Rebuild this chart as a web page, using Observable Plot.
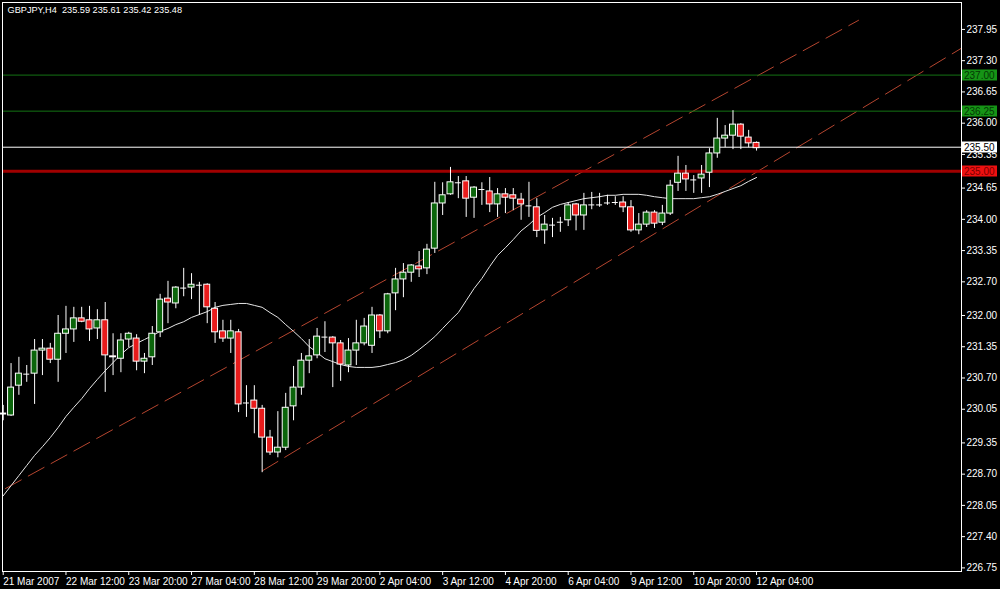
<!DOCTYPE html>
<html><head><meta charset="utf-8">
<script src="https://cdn.jsdelivr.net/npm/d3@7"></script>
<script src="https://cdn.jsdelivr.net/npm/@observablehq/plot@0.6"></script>
<style>html,body{margin:0;padding:0;background:#000;overflow:hidden}</style>
</head><body><div id="chart"></div>
<script>
const symbolTitle = "GBPJPY,H4  235.59 235.61 235.42 235.48";

const opens = [229.94,229.92,230.54,230.77,230.79,231.27,231.31,231.08,231.62,231.71,
231.94,231.90,231.73,231.90,231.15,231.10,231.50,231.52,231.04,231.13,
231.65,232.35,232.25,232.58,232.58,232.64,232.64,232.14,231.67,231.52,
231.65,230.19,230.23,230.06,229.46,229.15,229.25,230.11,230.50,231.06,
231.17,231.56,231.54,231.42,230.96,231.27,231.42,231.37,232.00,231.67,
232.46,232.75,232.89,233.02,232.98,233.39,234.33,234.52,234.77,234.79,
234.45,234.64,234.58,234.31,234.52,234.50,234.41,234.29,234.25,233.77,
233.89,233.95,233.98,234.31,234.08,234.31,234.31,234.35,234.35,234.35,
234.25,233.77,233.89,234.14,233.93,234.12,234.76,234.95,234.83,234.85,
234.97,235.37,235.68,235.74,235.97,235.70,235.59];
const highs = [230.13,231.00,231.13,230.96,231.50,231.50,231.42,232.00,232.19,232.17,
232.17,232.19,232.12,232.27,231.62,231.62,231.65,231.60,231.21,231.77,
232.44,232.71,232.60,232.98,232.87,232.69,232.66,232.27,231.90,231.90,
231.71,230.54,230.54,230.13,229.61,230.00,230.38,230.94,231.21,231.50,
231.73,231.87,231.56,231.48,231.52,231.90,231.94,232.17,232.02,232.46,
232.98,233.08,233.06,233.33,233.48,234.77,234.76,235.08,234.89,234.89,
234.68,234.76,234.87,234.64,234.64,234.64,234.54,234.77,234.43,234.08,
234.02,234.04,234.35,234.33,234.54,234.56,234.54,234.50,234.47,234.47,
234.39,234.12,234.18,234.18,234.29,234.81,235.31,235.12,234.91,235.12,
235.47,236.10,235.95,236.26,235.99,235.85,235.61];
const lows = [229.81,229.90,230.34,230.61,230.15,230.75,231.00,230.61,231.21,231.44,
231.85,231.46,231.50,230.40,230.75,230.81,231.33,230.85,230.79,230.96,
231.54,231.83,232.14,232.39,232.33,232.00,231.83,231.42,231.44,231.21,
229.98,229.88,229.54,228.73,229.09,229.04,229.19,229.81,230.34,230.79,
231.10,231.23,230.50,230.63,230.81,230.96,231.37,231.21,231.52,231.62,
232.10,232.37,232.69,232.79,232.85,233.29,234.08,234.50,234.43,234.04,
234.02,234.29,234.14,234.04,234.12,234.18,233.98,234.04,233.62,233.48,
233.62,233.73,233.85,233.76,233.77,234.20,234.25,234.29,234.29,234.14,
233.73,233.68,233.83,233.81,233.87,234.08,234.58,234.58,234.54,234.54,
234.66,235.27,235.49,235.45,235.45,235.49,235.42];
const closes = [229.96,230.50,230.79,230.78,231.27,231.31,231.08,231.62,231.71,231.94,
231.87,231.71,231.90,231.17,231.13,231.48,231.62,231.04,231.10,231.62,
232.33,232.27,232.58,232.57,232.64,232.63,232.17,231.65,231.52,231.67,
230.15,230.18,230.06,229.46,229.15,229.25,230.08,230.50,231.06,231.15,
231.56,231.55,231.42,230.98,231.27,231.42,231.77,232.00,231.67,232.44,
232.75,232.89,233.04,232.96,233.37,234.33,234.50,234.77,234.76,234.43,
234.66,234.62,234.31,234.52,234.45,234.43,234.31,234.28,233.76,233.89,
233.88,233.94,234.29,234.08,234.29,234.30,234.30,234.34,234.35,234.25,
233.77,233.89,234.14,233.91,234.12,234.70,234.95,234.83,234.82,234.93,
235.37,235.68,235.74,235.97,235.72,235.58,235.48];

const maValues = [228.25,228.46,228.67,228.88,229.09,229.27,229.46,229.67,229.90,230.09,
230.27,230.48,230.67,230.85,231.02,231.19,231.33,231.42,231.50,231.58,
231.67,231.73,231.81,231.87,231.96,232.02,232.08,232.17,232.21,232.23,
232.25,232.25,232.21,232.17,232.06,231.96,231.81,231.67,231.52,231.35,
231.23,231.10,231.04,230.98,230.94,230.92,230.92,230.92,230.94,230.98,
231.02,231.08,231.17,231.29,231.42,231.56,231.73,231.90,232.06,232.31,
232.56,232.77,233.02,233.25,233.41,233.58,233.76,233.89,234.04,234.14,
234.25,234.31,234.35,234.39,234.43,234.45,234.47,234.50,234.50,234.52,
234.52,234.52,234.50,234.47,234.45,234.43,234.43,234.43,234.43,234.45,
234.47,234.52,234.58,234.64,234.70,234.79,234.87];

const dateTicks = [0,8,16,24,32,40,48,56,64,72,80,88,96];
const dateLabels = ["21 Mar 2007","22 Mar 12:00","23 Mar 20:00","27 Mar 04:00","28 Mar 12:00",
"29 Mar 20:00","2 Apr 04:00","3 Apr 12:00","4 Apr 20:00","6 Apr 04:00","9 Apr 12:00",
"10 Apr 20:00","12 Apr 04:00"];

const priceTicks = [226.75,227.40,228.05,228.70,229.35,230.05,230.70,231.35,232.00,232.70,
233.35,234.00,234.65,235.35,236.00,236.65,237.30,237.95];

const levelValues = [237.00, 236.25, 235.50, 235.00];
const levelLineColors = ["#147314", "#147314", "#ffffff", "#a00000"];
const levelLineWidths = [1, 1, 1, 3];
const levelBoxFills = ["#169416", "#169416", "#ffffff", "#ee1010"];
const levelBoxTexts = ["#043804", "#043804", "#000000", "#7a0000"];

const channelAIdx = [0.29, 109.0];
const channelAPrice = [228.40, 238.14];
const channelBIdx = [33.04, 122.12];
const channelBPrice = [228.77, 237.56];

// ---- build tables ----
const bars = opens.map((o, i) => ({i, o, h: highs[i], l: lows[i], c: closes[i]}));
const bodies = bars.filter(d => Math.abs(d.c - d.o) >= 0.02);
const dojis = bars.filter(d => Math.abs(d.c - d.o) < 0.02);
const ma = maValues.map((v, i) => ({i, v}));
const levels = levelValues.map((v, k) => ({v, stroke: levelLineColors[k], w: levelLineWidths[k]}));
const chanA = channelAIdx.map((x, k) => ({x, y: channelAPrice[k]}));
const chanB = channelBIdx.map((x, k) => ({x, y: channelBPrice[k]}));
const HW = 0.38;
const chanStyle = {x: "x", y: "y", stroke: "#b5452f", strokeWidth: 1, strokeDasharray: "18,8"};

const chart = Plot.plot({
  width: 1000, height: 589,
  marginTop: 2, marginBottom: 18, marginLeft: 2, marginRight: 39,
  style: {background: "#000", color: "#fff", fontFamily: "'Liberation Sans', Arial, sans-serif", fontSize: "10px"},
  x: {type: "linear", domain: [-0.09, 122.12]},
  y: {type: "linear", domain: [226.675, 238.51]},
  marks: [
    Plot.line(chanA, chanStyle),
    Plot.line(chanB, chanStyle),
    Plot.ruleY(levels, {y: "v", stroke: "stroke", strokeWidth: "w"}),
    Plot.line(ma, {x: "i", y: "v", stroke: "#e6e6e6", strokeWidth: 1}),
    Plot.ruleX(bars, {x: "i", y1: "l", y2: "h", stroke: "#fff", strokeWidth: 1}),
    Plot.rect(bodies, {x1: d => d.i - HW, x2: d => d.i + HW, y1: "o", y2: "c",
      fill: d => d.c > d.o ? "#0b650b" : "#e81c1c", stroke: "#fff", strokeWidth: 1}),
    Plot.ruleY(dojis, {y: "c", x1: d => d.i - HW, x2: d => d.i + HW, stroke: "#fff"}),
    Plot.frame({stroke: "#fff"}),
    Plot.axisY(priceTicks, {anchor: "right", tickFormat: d => d.toFixed(2), tickSize: 3, tickPadding: 2, label: null, fill: "#fff", stroke: "#fff"}),
    Plot.axisX(dateTicks, {anchor: "bottom", tickFormat: i => dateLabels[dateTicks.indexOf(i)], tickSize: 4, tickPadding: 2, textAnchor: "start", dx: 0, label: null, fill: "#fff", stroke: "#fff"}),
    Plot.text([symbolTitle], {frameAnchor: "top-left", dx: 5, dy: 3.5, fill: "#fff", fontSize: 9.2, lineAnchor: "top"})
  ]
});

// price labels of the horizontal levels, positioned with the chart's own y scale
const ys = chart.scale("y");
const svg = d3.select(chart);
const g = svg.append("g")
  .attr("font-family", "'Liberation Sans', Arial, sans-serif")
  .attr("font-size", 10)
  .attr("text-anchor", "start");
levelValues.forEach((v, k) => {
  const y = ys.apply(v);
  g.append("rect").attr("x", 962).attr("y", Math.round(y) - 5.5).attr("width", 35).attr("height", 11)
    .attr("fill", levelBoxFills[k]);
  g.append("text").attr("x", 964).attr("y", Math.round(y) + 4).attr("text-anchor", "start")
    .attr("fill", levelBoxTexts[k]).text(v.toFixed(2));
});

document.getElementById("chart").append(chart);
</script>
</body></html>
